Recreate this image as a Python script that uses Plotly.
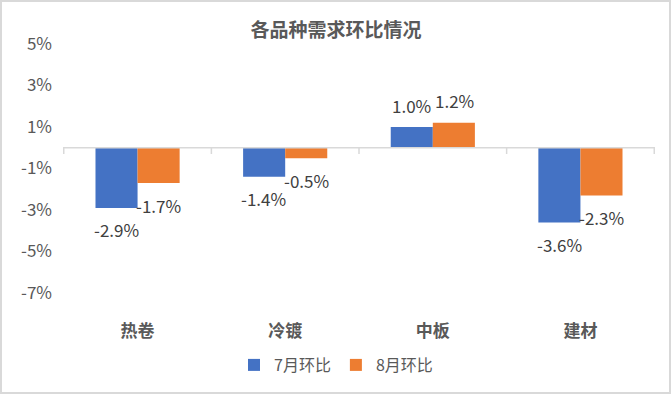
import plotly.graph_objects as go

categories = ["热卷", "冷镀", "中板", "建材"]
jul_values = [-2.9, -1.4, 1.0, -3.6]
aug_values = [-1.7, -0.5, 1.2, -2.3]
series_names = ["7月环比", "8月环比"]
y_tick_vals = [-7, -5, -3, -1, 1, 3, 5]
y_tick_text = ["-7%", "-5%", "-3%", "-1%", "1%", "3%", "5%"]

W, H = 672, 396
L, R, T, B = 63, 655, 44, 293
FONT = "Noto Sans CJK SC, Microsoft YaHei, sans-serif"

fig = go.Figure()
fig.add_trace(go.Bar(x=categories, y=jul_values, name=series_names[0],
                     marker_color="#4472C4", marker_line_width=0))
fig.add_trace(go.Bar(x=categories, y=aug_values, name=series_names[1],
                     marker_color="#ED7D31", marker_line_width=0))

annotations = []
for vals, xs in ((jul_values, -21.3), (aug_values, 21.3)):
    for c, v in zip(categories, vals):
        annotations.append(dict(
            x=c, y=v, xref="x", yref="y", text=f"{v:.1f}%", showarrow=False,
            xshift=xs, yshift=22 if v > 0 else -22, yanchor="middle",
            font=dict(size=17, color="#404040", family=FONT)))

shapes = []
# zero axis line with boundary ticks
shapes.append(dict(type="line", xref="paper", yref="y", x0=0, x1=1, y0=0, y1=0,
                   line=dict(color="#D9D9D9", width=1.5)))
for i in range(len(categories) + 1):
    shapes.append(dict(type="line", xref="x", yref="y", x0=i - 0.5, x1=i - 0.5,
                       y0=0, y1=-0.3, line=dict(color="#D9D9D9", width=1.5)))
# outer border
pw, ph = R - L, B - T
def px_x(p):
    return (p - L) / pw
def px_y(p):
    return (B - p) / ph
shapes.append(dict(type="rect", xref="paper", yref="paper",
                   x0=px_x(1), x1=px_x(670), y0=px_y(1), y1=px_y(393),
                   line=dict(color="#D9D9D9", width=2)))

fig.update_layout(
    width=W, height=H,
    margin=dict(l=L, r=W - R, t=T, b=H - B),
    paper_bgcolor="white", plot_bgcolor="white",
    barmode="group", bargap=0.43, bargroupgap=0,
    font=dict(family=FONT, color="#595959"),
    title=dict(text="<b>各品种需求环比情况</b>", x=0.5, xref="container",
               xanchor="center", y=1 - 30 / H, yref="container", yanchor="middle",
               font=dict(size=19, color="#595959", family=FONT)),
    xaxis=dict(showgrid=False, zeroline=False, showline=False, ticks="",
               tickfont=dict(size=17, color="#595959", family=FONT),
               tickvals=categories, ticktext=[f"<b>{c}</b>" for c in categories],
               ticklabelstandoff=26),
    yaxis=dict(range=[-7, 5], showgrid=False, zeroline=False, showline=False,
               tickvals=y_tick_vals, ticktext=y_tick_text, ticks="",
               tickfont=dict(size=17, color="#595959", family=FONT),
               ticklabelstandoff=10),
    legend=dict(orientation="h", x=px_x(336), xanchor="center",
                y=px_y(365), yanchor="middle",
                font=dict(size=16, color="#595959", family=FONT),
                itemwidth=30, traceorder="normal"),
    annotations=annotations, shapes=shapes, showlegend=True,
)

fig.write_html("out.html", config={"displayModeBar": False},
               post_script="document.body.style.margin='0';document.body.style.overflow='hidden';")
